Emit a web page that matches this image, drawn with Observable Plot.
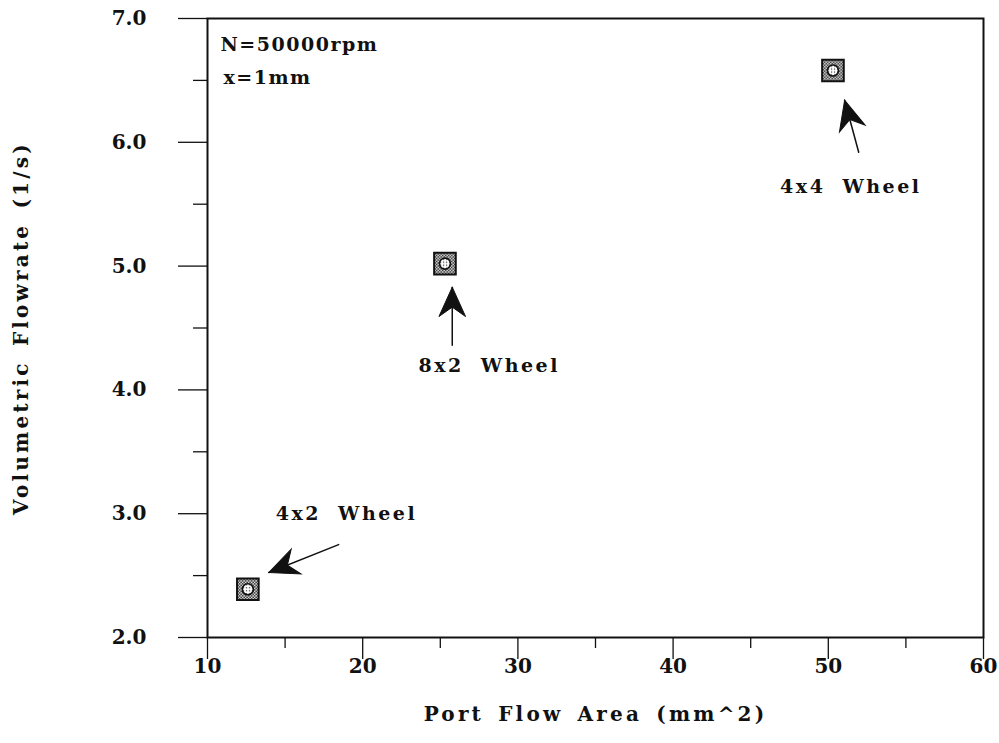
<!DOCTYPE html>
<html>
<head>
<meta charset="utf-8">
<script src="https://cdn.jsdelivr.net/npm/d3@7"></script>
<script src="https://cdn.jsdelivr.net/npm/@observablehq/plot@0.6"></script>
<style>
  html, body { margin: 0; padding: 0; background: #fff; }
  #chart svg { display: block; }
  #chart text { font-family: "DejaVu Serif", serif; font-weight: bold; fill: #111; }
  g[aria-label="x-axis label"] text, g[aria-label="y-axis label"] text { letter-spacing: 3.2px; word-spacing: 4px; }
  g.annot text { letter-spacing: 2.5px; word-spacing: 8px; }
  g.note text { letter-spacing: 1.5px; }
</style>
</head>
<body>
<div id="chart"></div>
<script>
// ---- data ----
const names = ["4x2 Wheel", "8x2 Wheel", "4x4 Wheel"];
const portArea = [12.6, 25.3, 50.3];          // mm^2
const flowRate = [2.39, 5.02, 6.58];          // l/s
const labelX = [18.95, 28.15, 51.45];
const labelY = [3.0, 4.19, 5.64];
const arrowTailX = [18.45, 25.77, 51.96];
const arrowTailY = [2.75, 4.36, 5.92];
const arrowTipX = [13.95, 25.77, 51.05];
const arrowTipY = [2.525, 4.83, 6.34];
const xMajor = [10, 20, 30, 40, 50, 60];
const xMinor = [15, 25, 35, 45, 55];
const yMajor = [2, 3, 4, 5, 6, 7];
const yMinor = [2.5, 3.5, 4.5, 5.5, 6.5];
const notes = ["N=50000rpm", "x=1mm"];

const points = names.map((n, i) => ({name: n, x: portArea[i], y: flowRate[i]}));
const labels = names.map((n, i) => ({name: n, x: labelX[i], y: labelY[i]}));
const arrows = names.map((n, i) => ({x1: arrowTailX[i], y1: arrowTailY[i], x2: arrowTipX[i], y2: arrowTipY[i]}));

const W = 999, H = 743;
const layout = {
  width: W, height: H,
  marginLeft: 207, marginRight: 16, marginTop: 18, marginBottom: 106,
  x: {domain: [10, 60]},
  y: {domain: [2, 7]}
};

// probe to obtain the scales for arrowhead orientation
const probe = Plot.plot({...layout, marks: [Plot.frame()]});
const sx = probe.scale("x"), sy = probe.scale("y");
arrows.forEach(a => {
  const dx = sx.apply(a.x2) - sx.apply(a.x1);
  const dy = sy.apply(a.y2) - sy.apply(a.y1);
  a.angle = Math.atan2(dx, -dy) * 180 / Math.PI;
});

const arrowHead = {
  draw(context, size) {
    const r = Math.sqrt(size / Math.PI);
    const L = 2.1 * r, w = 0.95 * r;
    context.moveTo(0, 0);
    context.lineTo(-w, L);
    context.lineTo(0, L * 0.68);
    context.lineTo(w, L);
    context.closePath();
  }
};
const ring = {
  draw(context, size) {
    const r = Math.sqrt(size / Math.PI);
    context.moveTo(r, 0);
    context.arc(0, 0, r, 0, 2 * Math.PI);
  }
};

const chart = Plot.plot({
  ...layout,
  style: {fontFamily: "DejaVu Serif", fontSize: "20px", fontWeight: "bold", color: "#111"},
  marks: [
    Plot.axisX(xMinor, {tickSize: 11, text: null, strokeWidth: 1.3}),
    Plot.axisX(xMajor, {tickSize: 22, tickPadding: -1, strokeWidth: 1.3, fontSize: 20,
      label: "Port Flow Area (mm^2)", labelAnchor: "center", labelArrow: "none", labelOffset: 83}),
    Plot.axisY(yMinor, {tickSize: 14, text: null, strokeWidth: 1.3}),
    Plot.axisY(yMajor, {tickSize: 29, tickPadding: 32, strokeWidth: 1.3, fontSize: 20, tickFormat: d3.format(".1f"),
      label: "Volumetric Flowrate (1/s)", labelAnchor: "center", labelArrow: "none", labelOffset: 194}),
    Plot.frame({stroke: "#111", strokeWidth: 2}),
    Plot.arrow(arrows, {x1: "x1", y1: "y1", x2: "x2", y2: "y2", headLength: 0, stroke: "#111", strokeWidth: 1.5}),
    Plot.dot(arrows, {x: "x2", y: "y2", symbol: arrowHead, r: 14, rotate: "angle", fill: "#111", stroke: "#111", strokeWidth: 1}),
    Plot.dot(points, {x: "x", y: "y", symbol: "square", r: 12.2, fill: "url(#dither)", stroke: "#111", strokeWidth: 2}),
    Plot.dot(points, {x: "x", y: "y", symbol: ring, r: 5.5, fill: "url(#dither2)", stroke: "#111", strokeWidth: 1.6}),
    Plot.text(labels, {x: "x", y: "y", text: "name", fontSize: 19, className: "annot"}),
    Plot.text([notes[0]], {frameAnchor: "top-left", dx: 13, dy: 26, text: d => d, textAnchor: "start", lineAnchor: "middle", fontSize: 19, className: "note"}),
    Plot.text([notes[1]], {frameAnchor: "top-left", dx: 16, dy: 59, text: d => d, textAnchor: "start", lineAnchor: "middle", fontSize: 19, className: "note"})
  ]
});

// dither patterns for the markers
const ns = "http://www.w3.org/2000/svg";
const defs = document.createElementNS(ns, "defs");
defs.innerHTML = `
  <pattern id="dither" width="3" height="3" patternUnits="userSpaceOnUse">
    <rect width="3" height="3" fill="#fff"/>
    <rect x="0" y="0" width="1.5" height="1.5" fill="#111"/>
    <rect x="1.5" y="1.5" width="1.5" height="1.5" fill="#111"/>
  </pattern>
  <pattern id="dither2" width="3" height="3" patternUnits="userSpaceOnUse">
    <rect width="3" height="3" fill="#fff"/>
    <rect x="1" y="1" width="1.2" height="1.2" fill="#333"/>
  </pattern>`;
chart.insertBefore(defs, chart.firstChild);
document.getElementById("chart").appendChild(chart);
</script>
</body>
</html>
